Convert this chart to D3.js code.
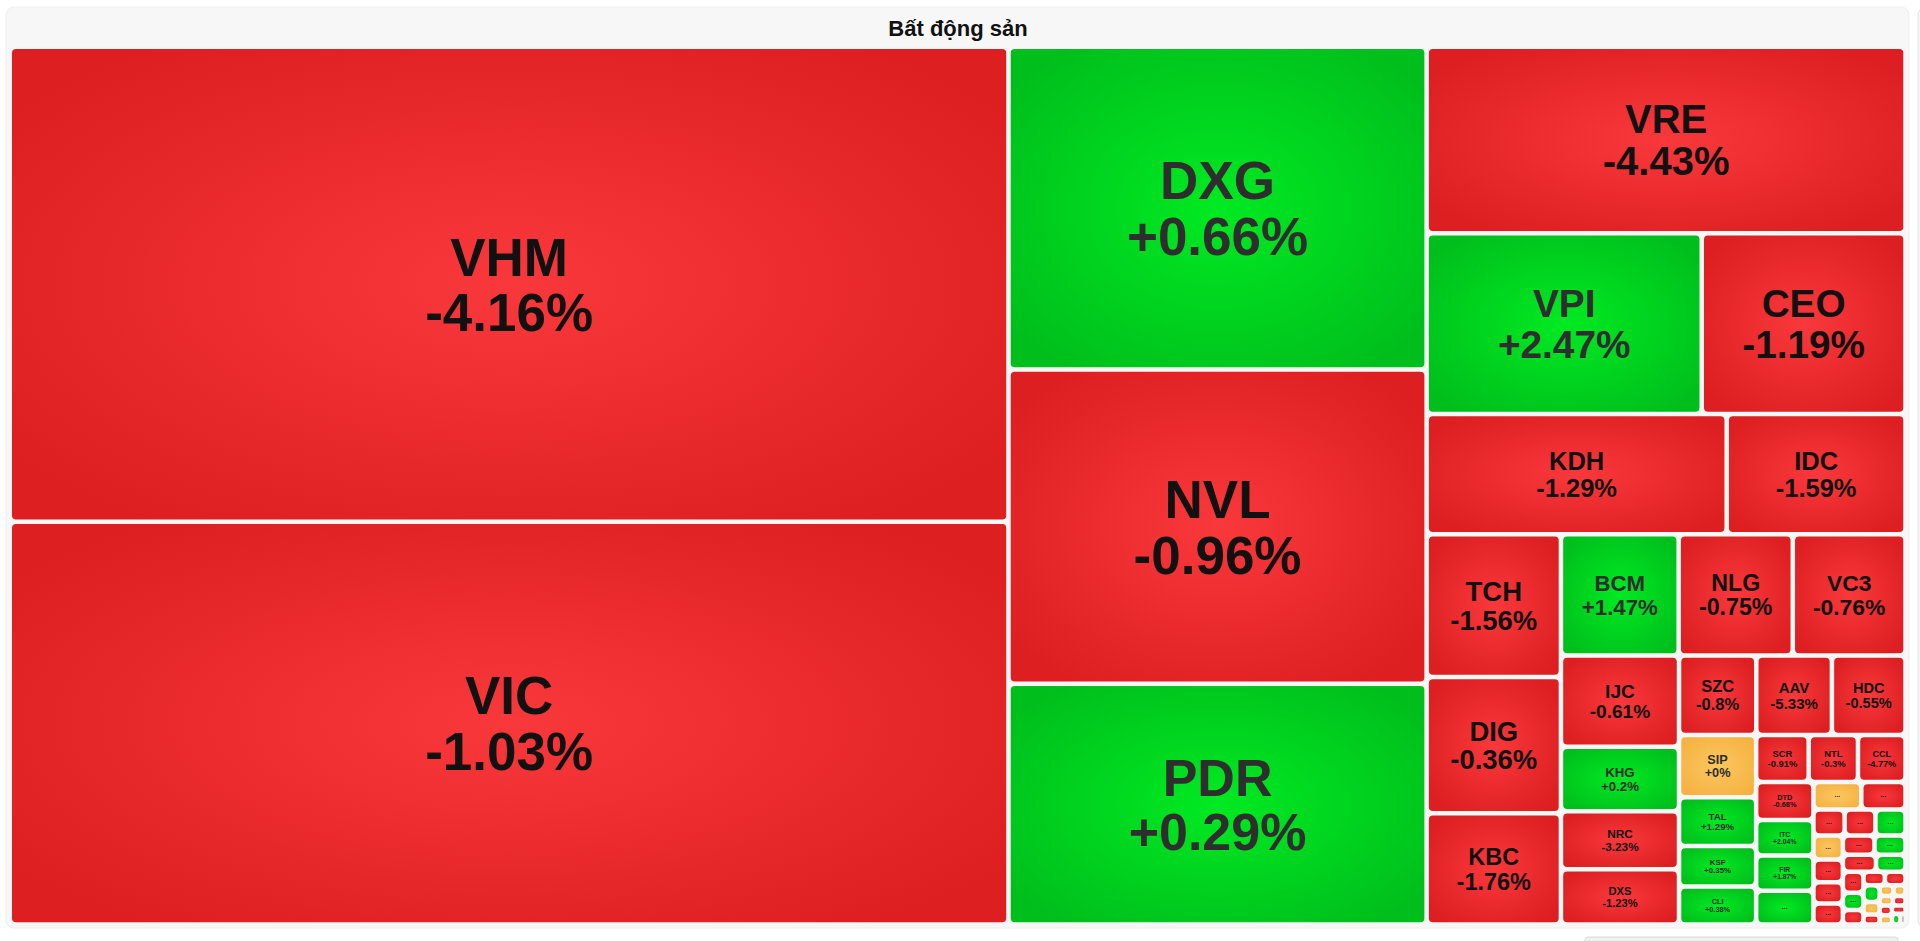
<!DOCTYPE html>
<html>
<head>
<meta charset="utf-8">
<script src="https://cdn.jsdelivr.net/npm/d3@7"></script>
<style>
  body { margin: 0; background: #fff; }
  svg { display: block; }
</style>
</head>
<body>
<svg width="1920" height="941"></svg>
<script>
// tickers shown in the sector map, biggest first
var tickers = ["VHM","VIC","DXG","NVL","PDR","VRE","VPI","CEO","KDH","IDC",
  "TCH","DIG","KBC","BCM","NLG","VC3","IJC","KHG","NRC","DXS",
  "SZC","AAV","HDC","SIP","TAL","KSF","CLI","SCR","NTL","CCL","DTD","ITC","FIR"];
var changes = [-4.16,-1.03,0.66,-0.96,0.29,-4.43,2.47,-1.19,-1.29,-1.59,
  -1.56,-0.36,-1.76,1.47,-0.75,-0.76,-0.61,0.2,-3.23,-1.23,
  -0.8,-5.33,-0.55,0,1.29,0.35,0.38,-0.91,-0.3,-4.77,-0.68,2.04,1.87];
// relative weight (size of the tile)
var weights = [473614,401494,134769,131095,100534,89133,49646,36779,36060,21492,
  19124,18278,14910,14231,13797,13629,10759,7617,6838,6507,
  6129,6002,5843,4790,3759,3116,2930,2471,2317,2237,2168,2037,2019];

// the tiny tiles only show "..." : weight and direction (+1 up, 0 flat, -1 down)
var smallWeights = [1928,1315,1216,808,798,780,705,670,625,615,610,600,560,500,430,
  355,300,285,275,270,205,160,150,130,127,122,120,113,112,90,55];
var smallSigns = [1,0,-1,-1,-1,1,0,-1,-1,-1,-1,1,-1,1,-1,
  1,-1,-1,-1,1,0,-1,0,0,0,-1,-1,0,-1,1,-1];

var title = "Bất động sản";

var items = tickers.map(function(t, i) {
  return {name: t, change: changes[i], sign: Math.sign(changes[i]), weight: weights[i]};
}).concat(smallWeights.map(function(w, i) {
  return {name: null, change: null, sign: smallSigns[i], weight: w};
}));

var font = "'Liberation Sans', Arial, sans-serif";
var svg = d3.select("svg");

// page furniture
svg.append("rect").attr("x", 1918).attr("y", 7).attr("width", 30).attr("height", 921)
  .attr("rx", 8).attr("fill", "#f6f6f6").attr("stroke", "#e4e4e4");
svg.append("rect").attr("x", 1585).attr("y", 937).attr("width", 313).attr("height", 20)
  .attr("rx", 3).attr("fill", "#f1f1f1").attr("stroke", "#d8d8d8");
svg.append("rect").attr("x", 6).attr("y", 7).attr("width", 1903).attr("height", 921)
  .attr("rx", 8).attr("fill", "#f7f7f7").attr("stroke", "#efefef");

svg.append("text")
  .attr("x", 958).attr("y", 36)
  .attr("text-anchor", "middle")
  .attr("font-family", font)
  .attr("font-weight", "bold")
  .attr("font-size", 22)
  .attr("fill", "#111")
  .text(title);

// radial fills like the original tiles
var defs = svg.append("defs");
var palette = {
  down: ["#f9383c", "#dd1f21"],
  up:   ["#00ea22", "#00bf1c"],
  flat: ["#fcc660", "#f5b242"]
};
Object.keys(palette).forEach(function(k) {
  var g = defs.append("radialGradient").attr("id", "g-" + k)
    .attr("cx", 0.5).attr("cy", 0.5).attr("r", 0.62);
  g.append("stop").attr("offset", 0).attr("stop-color", palette[k][0]);
  g.append("stop").attr("offset", 1).attr("stop-color", palette[k][1]);
});
function kind(s) { return s > 0 ? "up" : s < 0 ? "down" : "flat"; }

// squarify that aims at tiles a bit wider than tall (w/h ~ R)
function tileWide(R) {
  return function(parent, x0, y0, x1, y1) {
    var nodes = parent.children, n = nodes.length, i0 = 0, value = parent.value;
    while (i0 < n) {
      var dx = x1 - x0, dy = y1 - y0;
      var column = dx >= dy;
      var L = column ? dy : dx;
      var scale = value ? dx * dy / value : 0;
      var i1 = i0, sum = 0, best = Infinity;
      while (i1 < n) {
        var s = sum + nodes[i1].value;
        var t = s * scale / L, worst = 0;
        for (var j = i0; j <= i1; j++) {
          var l = nodes[j].value * scale / t;
          var a = column ? t / l : l / t;
          worst = Math.max(worst, a / R, R / a);
        }
        if (worst > best) break;
        best = worst; sum = s; i1++;
      }
      var row = {value: sum, children: nodes.slice(i0, i1)};
      if (column) {
        var xx = value ? x0 + dx * sum / value : x1;
        d3.treemapSlice(row, x0, y0, xx, y1);
        x0 = xx;
      } else {
        var yy = value ? y0 + dy * sum / value : y1;
        d3.treemapDice(row, x0, y0, x1, yy);
        y0 = yy;
      }
      value -= sum;
      i0 = i1;
    }
  };
}

var X0 = 9.75, Y0 = 46.75, X1 = 1905.55, Y1 = 924.55, gap = 4.5;

var root = d3.hierarchy({children: items})
  .sum(function(d) { return d.weight || 0; })
  .sort(function(a, b) { return b.value - a.value; });

d3.treemap().tile(tileWide(1.374)).size([X1 - X0, Y1 - Y0])(root);

var map = svg.append("g").attr("transform", "translate(" + X0 + "," + Y0 + ")");

var cell = map.selectAll("g.cell")
  .data(root.leaves())
  .join("g")
    .attr("class", "cell")
    .attr("transform", function(d) { return "translate(" + (d.x0 + gap / 2) + "," + (d.y0 + gap / 2) + ")"; });

cell.append("rect")
  .attr("width", function(d) { return Math.max(0, d.x1 - d.x0 - gap); })
  .attr("height", function(d) { return Math.max(0, d.y1 - d.y0 - gap); })
  .attr("rx", function(d) { return Math.min(4, (d.y1 - d.y0 - gap) / 3); })
  .attr("fill", function(d) { return "url(#g-" + kind(d.data.sign) + ")"; });

// measure label widths in em
var probe = svg.append("text")
  .attr("font-family", font)
  .attr("font-weight", "bold").attr("font-size", 100);
function em(s) { probe.text(s); return probe.node().getComputedTextLength() / 100; }

function fmt(c) { return (c < 0 ? "-" : "+") + Math.abs(c) + "%"; }

cell.each(function(d) {
  var g = d3.select(this);
  var w = d.x1 - d.x0 - gap, h = d.y1 - d.y0 - gap;
  var ink = d.data.sign < 0 ? "#111" : "#2e2e2e";
  if (d.data.name) {
    var l1 = d.data.name, l2 = fmt(d.data.change);
    var wEm = Math.max(em(l1), em(l2));
    var f = Math.min(0.22 * h, 0.67 * w / wEm, 53);
    var b1 = h / 2 - 0.165 * f;
    var t = g.append("text")
      .attr("text-anchor", "middle")
      .attr("font-family", font)
      .attr("font-weight", "bold")
      .attr("font-size", f.toFixed(2))
      .attr("fill", ink);
    t.append("tspan").attr("x", w / 2).attr("y", b1).text(l1);
    t.append("tspan").attr("x", w / 2).attr("y", b1 + 1.05 * f).text(l2);
  } else if (w > 14 && h > 11) {
    g.append("text")
      .attr("x", w / 2).attr("y", h / 2 + 1)
      .attr("text-anchor", "middle")
      .attr("font-family", font)
      .attr("font-weight", "bold")
      .attr("font-size", 7)
      .attr("fill", ink)
      .text("...");
  }
});
probe.remove();
</script>
</body>
</html>
